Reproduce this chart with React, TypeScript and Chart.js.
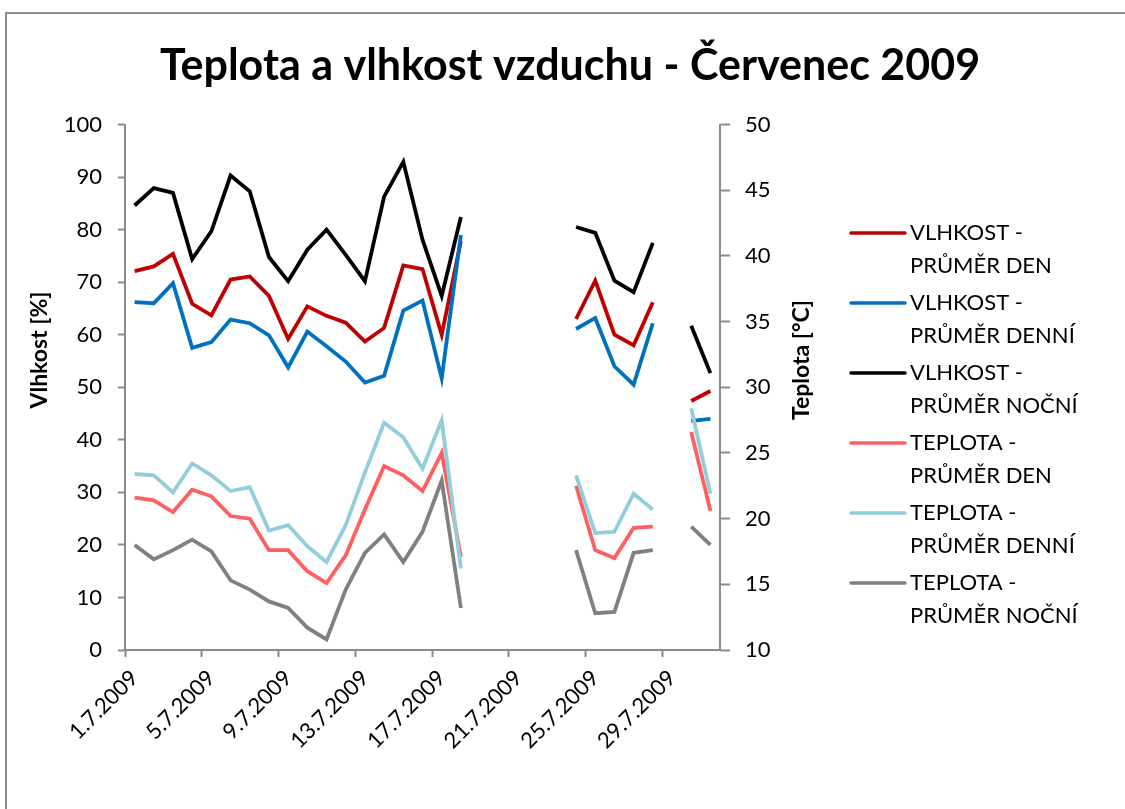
import React, { useEffect, useRef } from 'react';
import { Chart, registerables } from 'chart.js';

Chart.register(...registerables);

const categories = [
  '1.7.2009', '2.7.2009', '3.7.2009', '4.7.2009', '5.7.2009', '6.7.2009', '7.7.2009', '8.7.2009',
  '9.7.2009', '10.7.2009', '11.7.2009', '12.7.2009', '13.7.2009', '14.7.2009', '15.7.2009', '16.7.2009',
  '17.7.2009', '18.7.2009', '19.7.2009', '20.7.2009', '21.7.2009', '22.7.2009', '23.7.2009', '24.7.2009',
  '25.7.2009', '26.7.2009', '27.7.2009', '28.7.2009', '29.7.2009', '30.7.2009', '31.7.2009',
];

const vlhkostDen = [72.1, 73.0, 75.4, 65.9, 63.7, 70.5, 71.1, 67.4, 59.2, 65.4, 63.6, 62.3, 58.7, 61.3, 73.2, 72.5, 60.0, 77.8, null, null, null, null, null, 63.0, 70.3, 60.0, 58.0, 66.2, null, 47.4, 49.3];
const vlhkostDenni = [66.2, 66.0, 69.8, 57.5, 58.6, 62.9, 62.2, 59.9, 53.8, 60.6, 57.8, 54.9, 50.9, 52.2, 64.6, 66.5, 51.7, 79.0, null, null, null, null, null, 61.1, 63.2, 54.0, 50.5, 62.2, null, 43.6, 44.0];
const vlhkostNocni = [84.6, 87.9, 87.0, 74.4, 79.7, 90.3, 87.3, 74.8, 70.2, 76.2, 80.0, 75.2, 70.2, 86.3, 92.9, 78.1, 67.4, 82.4, null, null, null, null, null, 80.5, 79.4, 70.3, 68.1, 77.5, null, 61.7, 52.7];
const teplotaDen = [21.6, 21.4, 20.5, 22.2, 21.7, 20.2, 20.0, 17.6, 17.6, 16.0, 15.1, 17.2, 20.7, 24.0, 23.3, 22.1, 25.0, 17.1, null, null, null, null, null, 22.5, 17.6, 17.0, 19.3, 19.4, null, 26.6, 20.6];
const teplotaDenni = [23.4, 23.3, 22.0, 24.2, 23.3, 22.1, 22.4, 19.1, 19.5, 17.9, 16.7, 19.5, 23.5, 27.3, 26.2, 23.8, 27.5, 16.2, null, null, null, null, null, 23.3, 18.9, 19.0, 21.9, 20.7, null, 28.4, 21.9];
const teplotaNocni = [18.0, 16.9, 17.6, 18.4, 17.5, 15.3, 14.6, 13.7, 13.2, 11.7, 10.8, 14.6, 17.4, 18.8, 16.7, 19.0, 22.9, 13.2, null, null, null, null, null, 17.6, 12.8, 12.9, 17.4, 17.6, null, 19.4, 18.0];

const seriesLabels = [
  'VLHKOST - PRŮMĚR DEN',
  'VLHKOST - PRŮMĚR DENNÍ',
  'VLHKOST - PRŮMĚR NOČNÍ',
  'TEPLOTA - PRŮMĚR DEN',
  'TEPLOTA - PRŮMĚR DENNÍ',
  'TEPLOTA - PRŮMĚR NOČNÍ',
];
const seriesColors = ['#C00000', '#0070C0', '#000000', '#FF5F5F', '#92CDDC', '#808080'];

const titleText = 'Teplota a vlhkost vzduchu - Červenec 2009';
const leftAxisTitle = 'Vlhkost [%]';
const rightAxisTitle = 'Teplota [°C]';

const FONT = 'Lato';
const AXIS_GRAY = '#8A8A8A';

const decorPlugin = {
  id: 'decor',
  beforeDraw(chart: any) {
    const ctx = chart.ctx;
    ctx.save();
    ctx.fillStyle = '#ffffff';
    ctx.fillRect(0, 0, chart.width, chart.height);
    ctx.strokeStyle = '#8C8C8C';
    ctx.lineWidth = 2;
    ctx.beginPath();
    ctx.moveTo(6, chart.height);
    ctx.lineTo(6, 13);
    ctx.lineTo(chart.width, 13);
    ctx.stroke();
    ctx.restore();
  },
  afterDraw(chart: any) {
    const ctx = chart.ctx;
    const area = chart.chartArea;
    ctx.save();
    // axis titles
    ctx.fillStyle = '#000';
    ctx.font = `bold 23px ${FONT}`;
    ctx.textAlign = 'center';
    ctx.textBaseline = 'middle';
    ctx.save();
    ctx.translate(40, 350);
    ctx.rotate(-Math.PI / 2);
    ctx.fillText(leftAxisTitle, 0, 0);
    ctx.restore();
    ctx.save();
    ctx.translate(area.right + 82, 360);
    ctx.rotate(-Math.PI / 2);
    ctx.fillText(rightAxisTitle, 0, 0);
    ctx.restore();

    // legend
    const lx = 851;
    const top = 233;
    const step = 70;
    chart.data.datasets.forEach((ds: any, i: number) => {
      const y = top + i * step;
      ctx.strokeStyle = ds.borderColor;
      ctx.lineWidth = 3.5;
      ctx.lineCap = 'round';
      ctx.beginPath();
      ctx.moveTo(lx, y);
      ctx.lineTo(lx + 54, y);
      ctx.stroke();
      const parts = String(ds.label).split(' - ');
      ctx.fillStyle = '#000';
      ctx.font = `22px ${FONT}`;
      ctx.textAlign = 'left';
      ctx.textBaseline = 'middle';
      ctx.fillText(parts[0] + ' -', lx + 59, y);
      ctx.fillText(parts[1], lx + 59, y + 33);
    });
    ctx.restore();
  },
};

export default function App() {
  const canvasRef = useRef<HTMLCanvasElement | null>(null);

  useEffect(() => {
    document.body.style.margin = '0';
    const canvas = canvasRef.current;
    if (!canvas) return;
    const seriesData = [vlhkostDen, vlhkostDenni, vlhkostNocni, teplotaDen, teplotaDenni, teplotaNocni];
    const datasets = seriesData.map((d, i) => ({
      label: seriesLabels[i],
      data: d,
      borderColor: seriesColors[i],
      backgroundColor: seriesColors[i],
      borderWidth: 3.8,
      pointRadius: 0,
      pointHoverRadius: 0,
      tension: 0,
      spanGaps: false,
      fill: false,
      yAxisID: i < 3 ? 'y' : 'y1',
      order: 6 - i,
    }));

    const chart = new Chart(canvas, {
      type: 'line',
      data: { labels: categories, datasets },
      plugins: [decorPlugin],
      options: {
        responsive: false,
        animation: false,
        maintainAspectRatio: false,
        layout: { padding: { left: 15, right: 0, top: 0, bottom: 0 } },
        plugins: {
          legend: { display: false },
          tooltip: { enabled: false },
          title: {
            display: true,
            text: titleText,
            color: '#000',
            font: { family: FONT, size: 43, weight: 'bold' },
            padding: { top: 40, bottom: 33 },
          },
        },
        scales: {
          x: {
            type: 'category',
            offset: true,
            grid: {
              display: true,
              offset: true,
              drawOnChartArea: false,
              drawTicks: true,
              tickLength: 7,
              tickWidth: 2,
              tickColor: (ctx: any) => (ctx.index % 4 === 0 ? AXIS_GRAY : 'rgba(0,0,0,0)'),
            },
            border: { display: true, color: AXIS_GRAY, width: 2 },
            ticks: {
              autoSkip: false,
              minRotation: 45,
              maxRotation: 45,
              padding: 8,
              color: '#000',
              font: { family: FONT, size: 22 },
              callback: (_v: any, index: number) => (index % 4 === 0 ? categories[index] : ''),
            },
            afterFit: (scale: any) => {
              scale.height = 159;
            },
          },
          y: {
            position: 'left',
            min: 0,
            max: 100,
            grid: {
              display: true,
              drawOnChartArea: false,
              drawTicks: true,
              tickLength: 7,
              tickWidth: 2,
              tickColor: AXIS_GRAY,
            },
            border: { display: true, color: AXIS_GRAY, width: 2 },
            ticks: {
              stepSize: 10,
              padding: 16,
              color: '#000',
              font: { family: FONT, size: 22 },
            },
            afterFit: (scale: any) => {
              scale.width = 110;
            },
          },
          y1: {
            position: 'right',
            min: 10,
            max: 50,
            grid: {
              display: true,
              drawOnChartArea: false,
              drawTicks: true,
              tickLength: 10,
              tickWidth: 2,
              tickColor: AXIS_GRAY,
            },
            border: { display: true, color: AXIS_GRAY, width: 2 },
            ticks: {
              stepSize: 5,
              padding: 15,
              color: '#000',
              font: { family: FONT, size: 22 },
            },
            afterFit: (scale: any) => {
              scale.width = 405;
            },
          },
        },
      },
    } as any);

    return () => {
      chart.destroy();
    };
  }, []);

  return (
    <div style={{ width: 1125, height: 809 }}>
      <canvas ref={canvasRef} width={1125} height={809} style={{ display: 'block' }} />
    </div>
  );
}
